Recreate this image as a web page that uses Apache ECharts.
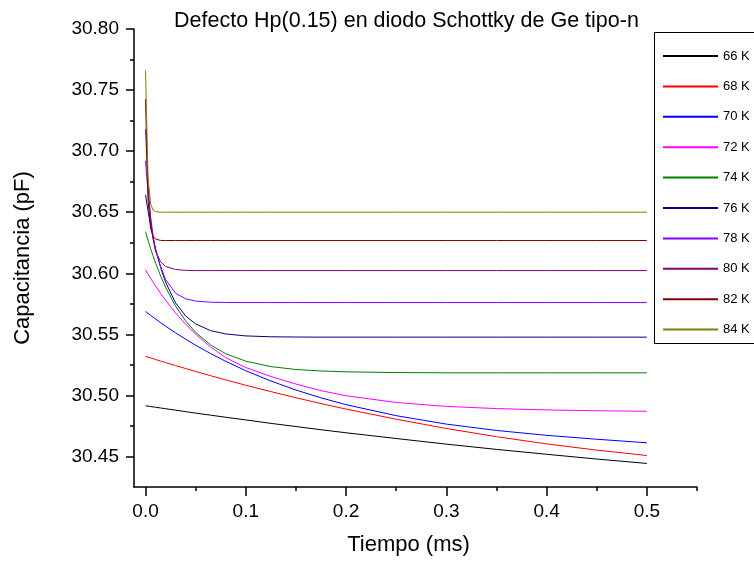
<!DOCTYPE html>
<html><head><meta charset="utf-8">
<script src="https://cdn.jsdelivr.net/npm/echarts@6/dist/echarts.min.js"></script>
<style>html,body{margin:0;padding:0;background:#fff}#c{width:754px;height:566px}</style>
</head><body><div id="c"></div>
<script>
// time (ms)
const times = [0, 0.0025, 0.005, 0.0075, 0.01, 0.015, 0.02, 0.03, 0.04, 0.05, 0.065, 0.08, 0.1, 0.125, 0.15, 0.175, 0.2, 0.25, 0.3, 0.35, 0.4, 0.45, 0.5];
const temps = ['66 K', '68 K', '70 K', '72 K', '74 K', '76 K', '78 K', '80 K', '82 K', '84 K'];
// capacitance (pF)
const c66 = [30.4915, 30.4912, 30.4909, 30.4906, 30.4903, 30.4897, 30.4891, 30.4879, 30.4867, 30.4855, 30.4838, 30.4821, 30.4799, 30.4771, 30.4745, 30.4719, 30.4694, 30.4647, 30.4601, 30.4558, 30.4518, 30.4479, 30.4443];
const c68 = [30.532, 30.5313, 30.5307, 30.5301, 30.5294, 30.5281, 30.5269, 30.5244, 30.522, 30.5196, 30.5161, 30.5127, 30.5083, 30.5031, 30.4981, 30.4933, 30.4888, 30.4805, 30.4729, 30.4662, 30.4603, 30.4552, 30.4508];
const c70 = [30.5687, 30.5671, 30.5656, 30.5641, 30.5626, 30.5596, 30.5567, 30.5512, 30.546, 30.5411, 30.5342, 30.5279, 30.5202, 30.5118, 30.5044, 30.498, 30.4924, 30.4834, 30.4765, 30.4713, 30.4673, 30.4641, 30.4612];
const c72 = [30.6028, 30.5993, 30.596, 30.5927, 30.5896, 30.5836, 30.5779, 30.5675, 30.5583, 30.5502, 30.5396, 30.5309, 30.5228, 30.5155, 30.5093, 30.5039, 30.4997, 30.4942, 30.491, 30.4892, 30.4881, 30.4874, 30.487];
const c74 = [30.634, 30.627, 30.6204, 30.6143, 30.6085, 30.5979, 30.5886, 30.573, 30.561, 30.5516, 30.5413, 30.5341, 30.528, 30.5236, 30.5212, 30.52, 30.5193, 30.5187, 30.5185, 30.5185, 30.5185, 30.5185, 30.5185];
const c76 = [30.6642, 30.6511, 30.6395, 30.6292, 30.6201, 30.6048, 30.5927, 30.5757, 30.565, 30.5585, 30.553, 30.5503, 30.5487, 30.548, 30.5478, 30.5477, 30.5477, 30.5477, 30.5477, 30.5477, 30.5477, 30.5477, 30.5477];
const c78 = [30.692, 30.6663, 30.6464, 30.6308, 30.6187, 30.6057, 30.5948, 30.5836, 30.5791, 30.5772, 30.5763, 30.5761, 30.576, 30.576, 30.576, 30.576, 30.576, 30.576, 30.576, 30.576, 30.576, 30.576, 30.576];
const c80 = [30.7179, 30.6724, 30.6448, 30.628, 30.6179, 30.6095, 30.6055, 30.6031, 30.6024, 30.6022, 30.6022, 30.6022, 30.6022, 30.6022, 30.6022, 30.6022, 30.6022, 30.6022, 30.6022, 30.6022, 30.6022, 30.6022, 30.6022];
const c82 = [30.7425, 30.66, 30.637, 30.6306, 30.628, 30.6269, 30.6268, 30.6268, 30.6268, 30.6268, 30.6268, 30.6268, 30.6268, 30.6268, 30.6268, 30.6268, 30.6268, 30.6268, 30.6268, 30.6268, 30.6268, 30.6268, 30.6268];
const c84 = [30.766, 30.679, 30.657, 30.6518, 30.6505, 30.65, 30.65, 30.65, 30.65, 30.65, 30.65, 30.65, 30.65, 30.65, 30.65, 30.65, 30.65, 30.65, 30.65, 30.65, 30.65, 30.65, 30.65];
const xTicks = [0, 0.1, 0.2, 0.3, 0.4, 0.5];
const xMinorTicks = [0.05, 0.15, 0.25, 0.35, 0.45, 0.55];
const yTicks = [30.45, 30.50, 30.55, 30.60, 30.65, 30.70, 30.75, 30.80];
const yMinorTicks = [30.475, 30.525, 30.575, 30.625, 30.675, 30.725, 30.775];

const allSeries = [c66, c68, c70, c72, c74, c76, c78, c80, c82, c84];
const colors = ['#000000', '#ff0000', '#0000ff', '#ff00ff', '#008000', '#000080', '#8000ff', '#800080', '#800000', '#808000'];
const FONT = 'Liberation Sans, Arial, sans-serif';

const chart = echarts.init(document.getElementById('c'), null, {renderer: 'canvas'});
const axisLineStyle = {color: '#000', width: 1.5};
const xRange = {min: -0.0115, max: 0.55};
const yRange = {min: 30.425, max: 30.80};

chart.setOption({
  animation: false,
  backgroundColor: '#fff',
  title: {
    text: 'Defecto Hp(0.15) en diodo Schottky de Ge tipo-n',
    left: 174, top: 10, padding: 0,
    textStyle: {fontFamily: FONT, fontSize: 21.5, fontWeight: 'normal', color: '#000'}
  },
  grid: {left: 134, top: 29, width: 563, height: 458, containLabel: false},
  graphic: [{
    type: 'rect', silent: true, z: 0,
    shape: {x: 654.5, y: 32.5, width: 120, height: 311},
    style: {fill: 'none', stroke: '#000', lineWidth: 1}
  }],
  legend: {
    orient: 'vertical', left: 654, top: 32,
    padding: [17, 8, 7, 8],
    borderWidth: 0,
    itemWidth: 55, itemHeight: 14, itemGap: 16.4,
    selectedMode: false,
    itemStyle: {color: 'rgba(0,0,0,0)', borderColor: 'rgba(0,0,0,0)', borderWidth: 0, opacity: 0},
    textStyle: {fontFamily: FONT, fontSize: 13, color: '#000', lineHeight: 14},
    data: temps
  },
  xAxis: [{
    type: 'value', min: xRange.min, max: xRange.max, position: 'bottom',
    name: 'Tiempo (ms)', nameLocation: 'middle', nameGap: 47,
    nameTextStyle: {fontFamily: FONT, fontSize: 22, color: '#000', padding: [0, 14, 0, 0]},
    axisLine: {show: true, onZero: false, lineStyle: axisLineStyle},
    axisTick: {show: true, length: 9, lineStyle: axisLineStyle, customValues: xTicks},
    axisLabel: {fontFamily: FONT, fontSize: 19, color: '#000', margin: 15, customValues: xTicks,
      formatter: v => v.toFixed(1)},
    splitLine: {show: false}
  }, {
    type: 'value', min: xRange.min, max: xRange.max, position: 'bottom',
    axisLine: {show: false, onZero: false},
    axisTick: {show: true, length: 4, lineStyle: axisLineStyle, customValues: xMinorTicks},
    axisLabel: {show: false},
    splitLine: {show: false}
  }],
  yAxis: [{
    type: 'value', min: yRange.min, max: yRange.max, position: 'left',
    name: 'Capacitancia (pF)', nameLocation: 'middle', nameGap: 100, nameRotate: 90,
    nameTextStyle: {fontFamily: FONT, fontSize: 22, color: '#000'},
    axisLine: {show: true, onZero: false, lineStyle: axisLineStyle},
    axisTick: {show: true, length: 8, lineStyle: axisLineStyle, customValues: yTicks},
    axisLabel: {fontFamily: FONT, fontSize: 19, color: '#000', margin: 15, customValues: yTicks,
      formatter: v => v.toFixed(2)},
    splitLine: {show: false}
  }, {
    type: 'value', min: yRange.min, max: yRange.max, position: 'left', offset: 0,
    axisLine: {show: false, onZero: false},
    axisTick: {show: true, length: 4, lineStyle: axisLineStyle, customValues: yMinorTicks},
    axisLabel: {show: false},
    splitLine: {show: false}
  }],
  series: allSeries.map((vals, i) => ({
    type: 'line', name: temps[i],
    xAxisIndex: 0, yAxisIndex: 0,
    data: times.map((t, j) => [t, vals[j]]),
    symbol: 'none', smooth: false,
    lineStyle: {color: colors[i], width: 1},
    itemStyle: {color: colors[i]},
    emphasis: {disabled: true}
  }))
});
</script></body></html>
